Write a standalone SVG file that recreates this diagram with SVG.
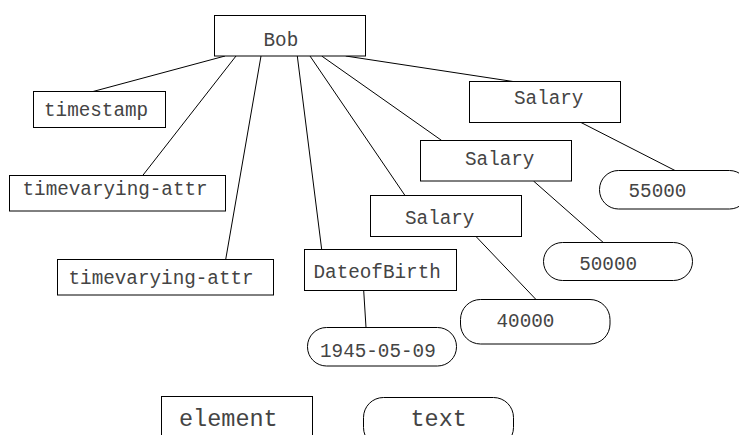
<svg xmlns="http://www.w3.org/2000/svg" width="739" height="435" viewBox="0 0 739 435">
  <style>
    .box { fill: #fff; stroke: #000; stroke-width: 1; }
    .lbl { font-family: "Liberation Mono", "Courier New", monospace; font-size: 19.3px; fill: #444; }
    .big { font-size: 23.5px; }
    .edge { stroke: #000; stroke-width: 1; fill: none; }
  </style>
  <rect width="739" height="435" fill="#fff"/>

  <!-- tree edges -->
  <g id="connectors">
    <line class="edge" x1="225" y1="56" x2="93" y2="91.5"/>
    <line class="edge" x1="236" y1="56" x2="142.7" y2="175.5"/>
    <line class="edge" x1="261" y1="56" x2="225.7" y2="259.5"/>
    <line class="edge" x1="297.3" y1="56" x2="321.7" y2="249.5"/>
    <line class="edge" x1="310" y1="56" x2="405" y2="195.5"/>
    <line class="edge" x1="321.7" y1="56" x2="441.7" y2="140.5"/>
    <line class="edge" x1="345.7" y1="56" x2="513" y2="81.5"/>
    <line class="edge" x1="581" y1="122.5" x2="675" y2="170.5"/>
    <line class="edge" x1="533.5" y1="181" x2="603.3" y2="242.5"/>
    <line class="edge" x1="476" y1="236.5" x2="536" y2="299.5"/>
    <line class="edge" x1="363.7" y1="290.5" x2="366" y2="327.5"/>
  </g>

  <g id="bob">
    <rect class="box" x="214.5" y="15.5" width="151" height="40.5"/>
    <text class="lbl" x="263.5" y="46">Bob</text>
  </g>
  <g id="timestamp">
    <rect class="box" x="33.5" y="91.5" width="132" height="36"/>
    <text class="lbl" x="44" y="116">timestamp</text>
  </g>
  <g id="timevarying-attr-1">
    <rect class="box" x="9.5" y="175.5" width="216" height="35.5"/>
    <text class="lbl" x="22.5" y="195">timevarying-attr</text>
  </g>
  <g id="timevarying-attr-2">
    <rect class="box" x="57.5" y="259.5" width="216" height="35.5"/>
    <text class="lbl" x="68.5" y="284">timevarying-attr</text>
  </g>
  <g id="dateofbirth">
    <rect class="box" x="304.5" y="249.5" width="152" height="41"/>
    <text class="lbl" x="313.5" y="278.3">DateofBirth</text>
  </g>
  <g id="dateofbirth-value">
    <rect class="box" x="307.5" y="327.5" width="149" height="38.5" rx="19" ry="19"/>
    <text class="lbl" x="320" y="356.7">1945-05-09</text>
  </g>
  <g id="salary-1">
    <rect class="box" x="469.5" y="81.5" width="151" height="41"/>
    <text class="lbl" x="514" y="104.3">Salary</text>
  </g>
  <g id="salary-1-value">
    <rect class="box" x="599.5" y="170.5" width="149" height="38.5" rx="19" ry="19"/>
    <text class="lbl" x="628.5" y="196.7">55000</text>
  </g>
  <g id="salary-2">
    <rect class="box" x="420.5" y="140.5" width="151" height="40.5"/>
    <text class="lbl" x="465" y="165">Salary</text>
  </g>
  <g id="salary-2-value">
    <rect class="box" x="543.5" y="242.5" width="149" height="38" rx="19" ry="19"/>
    <text class="lbl" x="579.2" y="270">50000</text>
  </g>
  <g id="salary-3">
    <rect class="box" x="370.5" y="195.5" width="151" height="41"/>
    <text class="lbl" x="405" y="224.3">Salary</text>
  </g>
  <g id="salary-3-value">
    <rect class="box" x="460.5" y="299.5" width="149.5" height="44.5" rx="20" ry="20"/>
    <text class="lbl" x="496.5" y="326.7">40000</text>
  </g>

  <!-- legend -->
  <g id="legend-element">
    <rect class="box" x="161.5" y="396.5" width="151" height="50"/>
    <text class="lbl big" x="179" y="426">element</text>
  </g>
  <g id="legend-text">
    <rect class="box" x="363.5" y="397.5" width="150" height="50" rx="20" ry="20"/>
    <text class="lbl big" x="410.5" y="426">text</text>
  </g>
</svg>
